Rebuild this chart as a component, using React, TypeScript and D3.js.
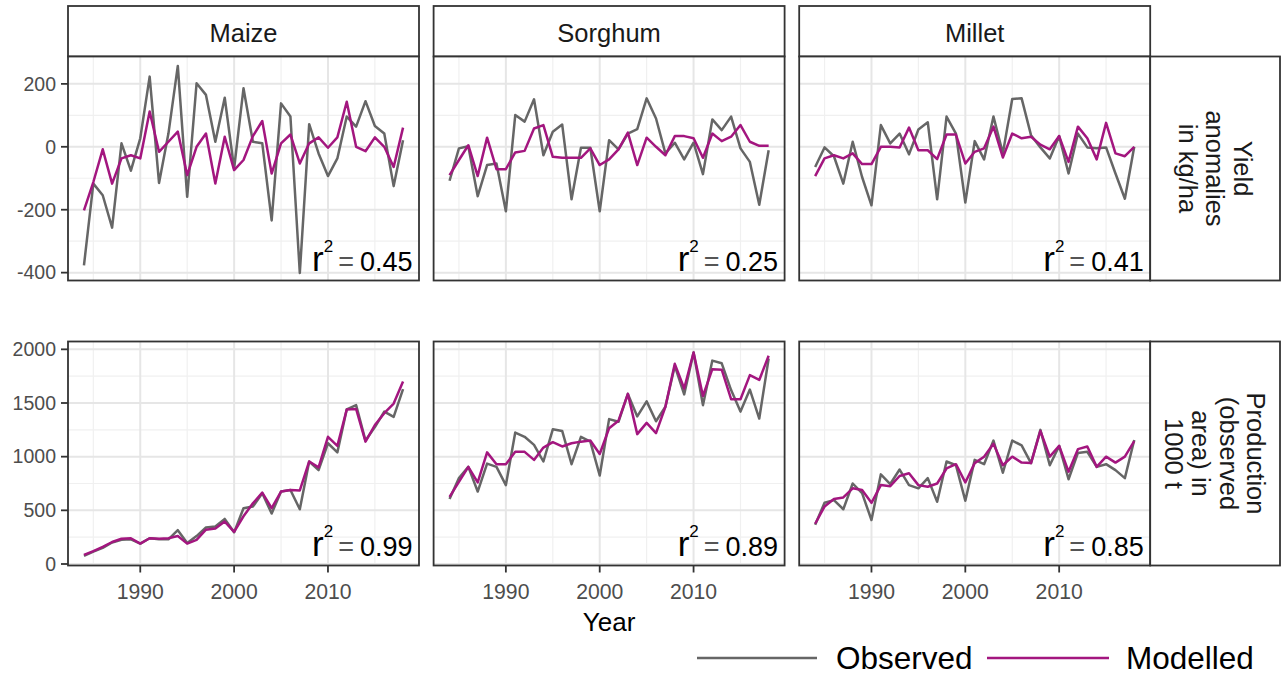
import React from 'react';
import * as d3 from 'd3';

const years = [
  1984, 1985, 1986, 1987, 1988, 1989, 1990, 1991, 1992, 1993, 1994, 1995,
  1996, 1997, 1998, 1999, 2000, 2001, 2002, 2003, 2004, 2005, 2006, 2007,
  2008, 2009, 2010, 2011, 2012, 2013, 2014, 2015, 2016, 2017, 2018,
];

const crops = ['Maize', 'Sorghum', 'Millet'];
const rowLabels = [
  ['Yield', 'anomalies', 'in kg/ha'],
  ['Production', '(observed', 'area) in', '1000 t'],
];

const xTicks = [1990, 2000, 2010];
const xMinor = [1985, 1995, 2005, 2015];
const yieldTicks = [-400, -200, 0, 200];
const yieldMinor = [-300, -100, 100];
const prodTicks = [0, 500, 1000, 1500, 2000];
const prodMinor = [250, 750, 1250, 1750];

// yield anomalies (kg/ha)
const maizeYieldObs = [-377, -117, -154, -257, 11, -76, 27, 223, -115, 42, 257, -159, 202, 165, 16, 156, -69, 186, 16, 11, -234, 138, 96, -401, 72, -21, -93, -37, 96, 64, 145, 66, 42, -125, 21];
const maizeYieldMod = [-202, -112, -8, -117, -37, -27, -37, 112, -16, 16, 48, -90, 0, 42, -117, 32, -74, -42, 34, 82, -85, 11, 39, -53, 11, 30, -3, 30, 143, 0, -14, 30, 0, -64, 61];
const sorghumYieldObs = [-108, -5, 2, -157, -58, -53, -205, 101, 80, 151, -27, 48, 71, -167, -3, -3, -205, 21, -8, 42, 56, 154, 90, -21, 13, -40, 13, -87, 87, 53, 96, -5, -48, -184, -11];
const sorghumYieldMod = [-90, -42, 5, -93, 29, -71, -71, -18, -13, 58, 69, -32, -35, -35, -35, -5, -58, -40, -8, 45, -58, 29, 0, -27, 34, 34, 27, -35, 42, 18, 32, 69, 16, 3, 3];
const milletYieldObs = [-64, -2, -30, -117, 16, -96, -186, 69, 11, 42, -24, 55, 78, -167, 96, 42, -177, 18, -40, 96, -21, 152, 154, 37, -2, -37, 34, -85, 42, -2, -5, -2, -85, -165, 0];
const milletYieldMod = [-93, -37, -27, -37, -21, -55, -55, 0, 0, -2, 61, -11, -11, -39, 39, 39, -53, -16, -5, 64, -34, 42, 27, 32, 7, -8, 34, -48, 64, 27, -40, 76, -21, -30, 0];

// production (1000 t)
const maizeProdObs = [75, 115, 150, 200, 225, 230, 190, 240, 230, 230, 315, 195, 260, 340, 350, 420, 295, 520, 535, 660, 470, 675, 690, 510, 955, 875, 1125, 1040, 1440, 1480, 1150, 1275, 1420, 1370, 1630];
const maizeProdMod = [85, 120, 160, 205, 235, 240, 190, 240, 235, 240, 260, 190, 225, 320, 330, 395, 300, 445, 565, 665, 520, 675, 690, 685, 955, 900, 1185, 1100, 1440, 1445, 1140, 1295, 1405, 1495, 1700];
const sorghumProdObs = [605, 800, 905, 675, 935, 905, 735, 1225, 1185, 1110, 955, 1255, 1240, 930, 1185, 1140, 825, 1350, 1325, 1585, 1375, 1515, 1330, 1465, 1845, 1580, 1970, 1480, 1895, 1870, 1620, 1420, 1625, 1355, 1915];
const sorghumProdMod = [625, 765, 905, 760, 1040, 930, 930, 1045, 1045, 970, 1085, 1135, 1095, 1125, 1140, 1150, 1025, 1265, 1335, 1585, 1210, 1315, 1220, 1465, 1865, 1635, 1970, 1565, 1815, 1810, 1535, 1535, 1760, 1715, 1940];
const milletProdObs = [365, 570, 595, 510, 750, 660, 410, 835, 745, 880, 735, 705, 800, 580, 955, 920, 590, 970, 930, 1150, 850, 1150, 1105, 940, 1250, 920, 1100, 790, 1035, 1045, 905, 930, 875, 800, 1155];
const milletProdMod = [375, 535, 605, 620, 705, 690, 570, 735, 725, 820, 845, 735, 720, 750, 890, 930, 760, 940, 1000, 1120, 920, 1000, 945, 940, 1240, 1000, 1100, 860, 1070, 1095, 905, 1000, 945, 1000, 1145];

const r2Yield = ['0.45', '0.25', '0.41'];
const r2Prod = ['0.99', '0.89', '0.85'];

const obsColor = '#666666';
const modColor = '#a3167f';
const font = '"Liberation Sans", Arial, sans-serif';

const W = 1281;
const H = 678;
const panelLeft = 68;
const panelW = 351;
const panelGap = 14.6;
const rowTops = [56.5, 341.5];
const panelH = 224;
const stripTop = 6;
const stripRight = 1280;

const rows = [
  {
    domain: [-425, 287],
    ticks: yieldTicks,
    minor: yieldMinor,
    obs: [maizeYieldObs, sorghumYieldObs, milletYieldObs],
    mod: [maizeYieldMod, sorghumYieldMod, milletYieldMod],
    r2: r2Yield,
  },
  {
    domain: [-14, 2073],
    ticks: prodTicks,
    minor: prodMinor,
    obs: [maizeProdObs, sorghumProdObs, milletProdObs],
    mod: [maizeProdMod, sorghumProdMod, milletProdMod],
    r2: r2Prod,
  },
];

function Panel({ row, col }: { row: number; col: number }) {
  const r = rows[row];
  const left = panelLeft + col * (panelW + panelGap);
  const top = rowTops[row];
  const x = d3.scaleLinear().domain([1982.3, 2019.7]).range([left, left + panelW]);
  const y = d3.scaleLinear().domain(r.domain).range([top + panelH, top]);
  const line = d3
    .line<number>()
    .x((_, i) => x(years[i]))
    .y((d) => y(d));
  const bottom = top + panelH;
  const right = left + panelW;

  return (
    <g>
      <rect x={left} y={top} width={panelW} height={panelH} fill="#fff" />
      {r.minor.map((t) => (
        <line key={'ym' + t} x1={left} x2={right} y1={y(t)} y2={y(t)} stroke="#f0f0f0" strokeWidth={1.2} />
      ))}
      {xMinor.map((t) => (
        <line key={'xm' + t} x1={x(t)} x2={x(t)} y1={top} y2={bottom} stroke="#f0f0f0" strokeWidth={1.2} />
      ))}
      {r.ticks.map((t) => (
        <line key={'y' + t} x1={left} x2={right} y1={y(t)} y2={y(t)} stroke="#e6e6e6" strokeWidth={2} />
      ))}
      {xTicks.map((t) => (
        <line key={'x' + t} x1={x(t)} x2={x(t)} y1={top} y2={bottom} stroke="#e6e6e6" strokeWidth={2} />
      ))}
      <path d={line(r.obs[col]) || ''} fill="none" stroke={obsColor} strokeWidth={2.5} strokeLinejoin="round" />
      <path d={line(r.mod[col]) || ''} fill="none" stroke={modColor} strokeWidth={2.5} strokeLinejoin="round" />
      <rect x={left} y={top} width={panelW} height={panelH} fill="none" stroke="#333" strokeWidth={1.8} />

      {col === 0 &&
        r.ticks.map((t) => (
          <g key={'yl' + t}>
            <line x1={left - 7} x2={left} y1={y(t)} y2={y(t)} stroke="#333" strokeWidth={1.8} />
            <text x={left - 12} y={y(t)} dy="0.35em" textAnchor="end" fontSize={19.5} fill="#4d4d4d" fontFamily={font}>
              {t}
            </text>
          </g>
        ))}

      {row === 1 &&
        xTicks.map((t) => (
          <g key={'xl' + t}>
            <line x1={x(t)} x2={x(t)} y1={bottom} y2={bottom + 7} stroke="#333" strokeWidth={1.8} />
            <text x={x(t)} y={bottom + 33} textAnchor="middle" fontSize={21.2} fill="#4d4d4d" fontFamily={font}>
              {t}
            </text>
          </g>
        ))}

      <text x={right - 6.5} y={bottom - 9.5} textAnchor="end" fontSize={27} fill="#000" fontFamily={font}>
        <tspan fontSize={35}>r</tspan>
        <tspan fontSize={17} dy={-19}>2</tspan>
        <tspan dy={19} dx={5} fill="#555">=</tspan>
        <tspan dx={6}>{r.r2[col]}</tspan>
      </text>
    </g>
  );
}

export default function App() {
  const lineH = 27.5;
  return (
    <svg
      width={W}
      height={H}
      style={{ position: 'absolute', left: 0, top: 0, background: '#fff' }}
      fontFamily={font}
    >
      <rect width={W} height={H} fill="#fff" />

      {crops.map((c, i) => {
        const left = panelLeft + i * (panelW + panelGap);
        return (
          <g key={c}>
            <rect x={left} y={stripTop} width={panelW} height={rowTops[0] - stripTop} fill="#fff" stroke="#333" strokeWidth={1.8} />
            <text x={left + panelW / 2} y={41.5} textAnchor="middle" fontSize={25.5} fill="#1a1a1a">
              {c}
            </text>
          </g>
        );
      })}

      {rows.map((_, ri) =>
        crops.map((c, ci) => <Panel key={c + ri} row={ri} col={ci} />)
      )}

      {rowLabels.map((lines, ri) => {
        const sx = panelLeft + 3 * panelW + 2 * panelGap;
        const top = rowTops[ri];
        const cx = (sx + stripRight) / 2;
        const cy = top + panelH / 2;
        return (
          <g key={'rl' + ri}>
            <rect x={sx} y={top} width={stripRight - sx} height={panelH} fill="#fff" stroke="#333" strokeWidth={1.8} />
            <text transform={`translate(${cx},${cy}) rotate(90)`} textAnchor="middle" fontSize={25.5} fill="#1a1a1a">
              {lines.map((l, li) => (
                <tspan key={l} x={0} y={(li - (lines.length - 1) / 2) * lineH} dy="0.35em">
                  {l}
                </tspan>
              ))}
            </text>
          </g>
        );
      })}

      <text x={(panelLeft + 3 * panelW + 2 * panelGap + panelLeft) / 2} y={631} textAnchor="middle" fontSize={26} fill="#000">
        Year
      </text>

      <g>
        <line x1={697} x2={817} y1={658} y2={658} stroke={obsColor} strokeWidth={2.5} />
        <text x={836} y={668.5} fontSize={31.5} fill="#000">Observed</text>
        <line x1={987} x2={1109} y1={658} y2={658} stroke={modColor} strokeWidth={2.5} />
        <text x={1126} y={668.5} fontSize={31.5} fill="#000">Modelled</text>
      </g>
    </svg>
  );
}
